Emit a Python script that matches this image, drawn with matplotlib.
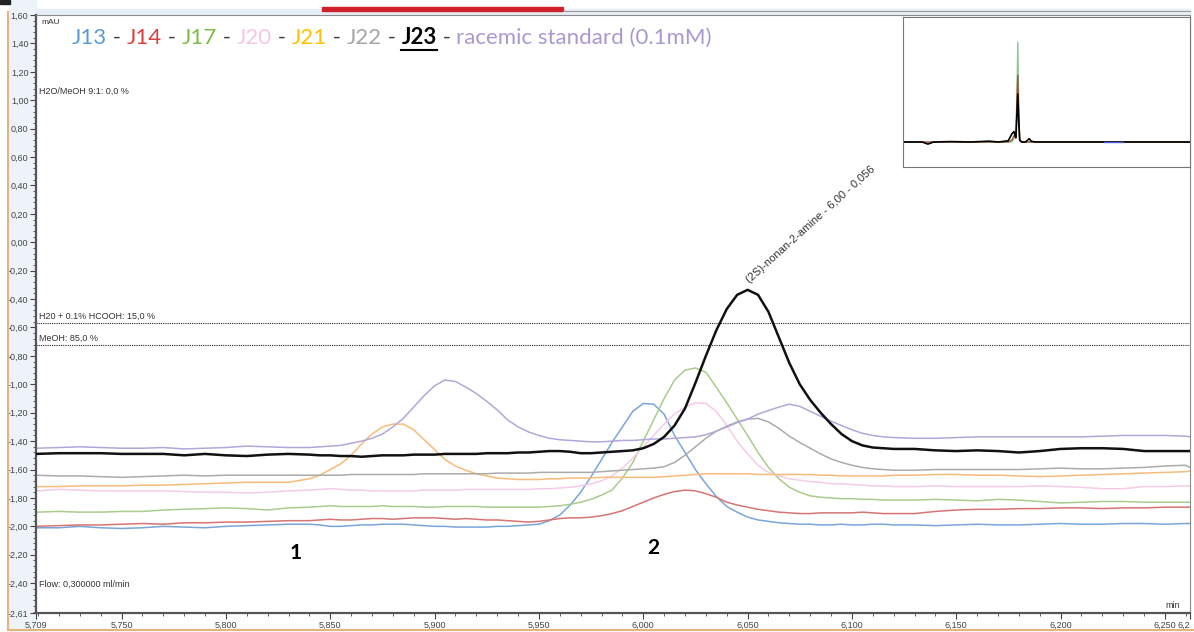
import matplotlib
matplotlib.use('Agg')
import matplotlib.pyplot as plt
from matplotlib.patches import Rectangle
from matplotlib.lines import Line2D
import numpy as np

# retention time (min), shared by all traces
rt = [5.709, 5.72, 5.73, 5.74, 5.75, 5.76, 5.77, 5.78, 5.79, 5.80, 5.81, 5.82, 5.83,
      5.840, 5.845, 5.850, 5.855, 5.860, 5.865, 5.870, 5.875, 5.880, 5.885, 5.890, 5.895,
      5.900, 5.905, 5.910, 5.915, 5.920, 5.925, 5.930, 5.935, 5.940, 5.945, 5.950, 5.955,
      5.960, 5.965, 5.970, 5.975, 5.980, 5.985, 5.990, 5.995, 6.000, 6.005, 6.010, 6.015,
      6.020, 6.025, 6.030, 6.035, 6.040, 6.045, 6.050, 6.055, 6.060, 6.065, 6.070, 6.075,
      6.080, 6.085, 6.090, 6.095, 6.100, 6.105, 6.110, 6.115, 6.120,
      6.13, 6.14, 6.15, 6.16, 6.17, 6.18, 6.19, 6.20, 6.21, 6.22, 6.23, 6.24, 6.25, 6.26, 6.262]

j13 = [-2.01, -2.01, -2.00, -2.01, -2.015, -2.01, -2.00, -2.005, -2.01, -2.00, -1.995, -1.99, -1.985,
       -1.985, -1.99, -2.00, -2.00, -1.995, -1.99, -1.99, -1.985, -1.985, -1.985, -1.99, -1.995,
       -2.00, -2.00, -2.005, -2.005, -2.005, -2.005, -2.00, -2.00, -1.995, -1.99, -1.985, -1.96,
       -1.92, -1.85, -1.76, -1.65, -1.53, -1.41, -1.30, -1.19, -1.135, -1.14, -1.21, -1.36,
       -1.48, -1.60, -1.70, -1.79, -1.86, -1.90, -1.935, -1.955, -1.965, -1.975, -1.98, -1.985,
       -1.985, -1.99, -1.99, -1.985, -1.99, -1.99, -1.985, -1.985, -1.99,
       -1.99, -1.995, -1.99, -1.985, -1.99, -1.99, -1.985, -1.98, -1.985, -1.985, -1.98, -1.98, -1.985, -1.98, -1.98]

j14 = [-2.00, -1.995, -1.99, -1.99, -1.985, -1.98, -1.985, -1.975, -1.975, -1.97, -1.97, -1.965, -1.96,
       -1.96, -1.955, -1.95, -1.955, -1.955, -1.95, -1.945, -1.945, -1.95, -1.945, -1.94, -1.94,
       -1.94, -1.945, -1.95, -1.945, -1.95, -1.955, -1.955, -1.96, -1.965, -1.97, -1.965, -1.955,
       -1.945, -1.94, -1.94, -1.935, -1.925, -1.91, -1.89, -1.86, -1.83, -1.80, -1.775, -1.755,
       -1.745, -1.75, -1.77, -1.795, -1.83, -1.85, -1.865, -1.88, -1.89, -1.90, -1.905, -1.91,
       -1.91, -1.905, -1.905, -1.905, -1.905, -1.90, -1.905, -1.91, -1.91,
       -1.91, -1.895, -1.885, -1.88, -1.88, -1.875, -1.875, -1.87, -1.87, -1.875, -1.87, -1.87, -1.865, -1.865, -1.865]

j17 = [-1.90, -1.895, -1.90, -1.90, -1.895, -1.895, -1.885, -1.88, -1.875, -1.87, -1.875, -1.885, -1.87,
       -1.865, -1.86, -1.855, -1.86, -1.86, -1.86, -1.86, -1.855, -1.86, -1.86, -1.86, -1.865,
       -1.865, -1.86, -1.86, -1.86, -1.86, -1.865, -1.865, -1.865, -1.865, -1.865, -1.865, -1.86,
       -1.855, -1.845, -1.83, -1.81, -1.78, -1.745, -1.66, -1.55, -1.40, -1.25, -1.10, -0.97,
       -0.90, -0.885, -0.915, -1.02, -1.13, -1.245, -1.36, -1.48, -1.585, -1.665, -1.725, -1.76,
       -1.785, -1.795, -1.80, -1.805, -1.805, -1.81, -1.81, -1.815, -1.815,
       -1.815, -1.81, -1.815, -1.82, -1.81, -1.815, -1.825, -1.835, -1.83, -1.825, -1.825, -1.83, -1.83, -1.83, -1.83]

j20 = [-1.75, -1.74, -1.745, -1.75, -1.75, -1.75, -1.75, -1.755, -1.76, -1.76, -1.765, -1.76, -1.75,
       -1.745, -1.74, -1.735, -1.74, -1.745, -1.745, -1.75, -1.75, -1.75, -1.75, -1.75, -1.745,
       -1.745, -1.745, -1.745, -1.74, -1.74, -1.74, -1.74, -1.74, -1.74, -1.74, -1.735, -1.735,
       -1.73, -1.725, -1.715, -1.70, -1.68, -1.645, -1.59, -1.52, -1.44, -1.36, -1.28, -1.21,
       -1.16, -1.13, -1.135, -1.19, -1.29, -1.40, -1.49, -1.57, -1.62, -1.645, -1.665, -1.675,
       -1.685, -1.69, -1.70, -1.70, -1.705, -1.71, -1.715, -1.715, -1.72,
       -1.72, -1.715, -1.72, -1.72, -1.72, -1.72, -1.715, -1.72, -1.725, -1.735, -1.735, -1.72, -1.72, -1.715, -1.715]

j21 = [-1.72, -1.72, -1.715, -1.715, -1.715, -1.71, -1.71, -1.705, -1.70, -1.695, -1.69, -1.69, -1.69,
       -1.665, -1.64, -1.60, -1.56, -1.50, -1.42, -1.35, -1.30, -1.28, -1.28, -1.32, -1.39,
       -1.46, -1.53, -1.575, -1.605, -1.63, -1.645, -1.66, -1.665, -1.67, -1.67, -1.67, -1.665,
       -1.665, -1.66, -1.66, -1.66, -1.655, -1.655, -1.655, -1.655, -1.655, -1.655, -1.65, -1.645,
       -1.64, -1.635, -1.63, -1.63, -1.63, -1.63, -1.63, -1.635, -1.635, -1.635, -1.635, -1.635,
       -1.635, -1.64, -1.64, -1.645, -1.645, -1.645, -1.645, -1.645, -1.64,
       -1.64, -1.635, -1.635, -1.64, -1.64, -1.645, -1.65, -1.645, -1.64, -1.635, -1.63, -1.625, -1.62, -1.615, -1.61]

j22 = [-1.64, -1.645, -1.645, -1.65, -1.655, -1.65, -1.645, -1.64, -1.645, -1.64, -1.64, -1.64, -1.64,
       -1.64, -1.64, -1.64, -1.64, -1.635, -1.635, -1.635, -1.635, -1.635, -1.635, -1.635, -1.63,
       -1.63, -1.63, -1.63, -1.63, -1.63, -1.63, -1.625, -1.625, -1.625, -1.625, -1.62, -1.62,
       -1.62, -1.62, -1.62, -1.62, -1.615, -1.61, -1.605, -1.60, -1.595, -1.59, -1.58, -1.55,
       -1.50, -1.44, -1.38, -1.33, -1.295, -1.265, -1.245, -1.24, -1.265, -1.31, -1.365, -1.41,
       -1.45, -1.49, -1.525, -1.55, -1.57, -1.585, -1.595, -1.60, -1.605,
       -1.605, -1.60, -1.60, -1.60, -1.60, -1.60, -1.595, -1.59, -1.595, -1.595, -1.59, -1.585, -1.575, -1.57, -1.585]

j23 = [-1.49, -1.485, -1.485, -1.485, -1.49, -1.49, -1.49, -1.50, -1.49, -1.50, -1.505, -1.495, -1.49,
       -1.495, -1.50, -1.50, -1.505, -1.505, -1.51, -1.505, -1.50, -1.50, -1.50, -1.495, -1.495,
       -1.495, -1.49, -1.49, -1.49, -1.49, -1.485, -1.485, -1.485, -1.48, -1.48, -1.475, -1.47,
       -1.47, -1.475, -1.485, -1.485, -1.48, -1.475, -1.47, -1.465, -1.45, -1.42, -1.37, -1.29,
       -1.17, -0.99, -0.80, -0.62, -0.47, -0.37, -0.335, -0.37, -0.49, -0.67, -0.85, -1.00,
       -1.11, -1.20, -1.28, -1.35, -1.40, -1.43, -1.445, -1.45, -1.455,
       -1.455, -1.465, -1.47, -1.465, -1.47, -1.48, -1.47, -1.455, -1.45, -1.45, -1.455, -1.47, -1.47, -1.47, -1.47]

racemic = [-1.45, -1.445, -1.44, -1.445, -1.45, -1.45, -1.445, -1.455, -1.45, -1.445, -1.435, -1.44, -1.445,
           -1.445, -1.44, -1.435, -1.43, -1.415, -1.40, -1.38, -1.35, -1.30, -1.24, -1.16, -1.08,
           -1.01, -0.97, -0.98, -1.02, -1.065, -1.12, -1.18, -1.25, -1.30, -1.335, -1.36, -1.38,
           -1.39, -1.395, -1.40, -1.405, -1.405, -1.40, -1.395, -1.395, -1.39, -1.385, -1.385, -1.38,
           -1.375, -1.37, -1.355, -1.33, -1.30, -1.27, -1.245, -1.21, -1.185, -1.16, -1.14, -1.155,
           -1.19, -1.225, -1.26, -1.29, -1.32, -1.345, -1.36, -1.37, -1.375,
           -1.38, -1.38, -1.375, -1.37, -1.37, -1.37, -1.37, -1.37, -1.37, -1.365, -1.36, -1.36, -1.36, -1.365, -1.37]

names = ['J13', 'J14', 'J17', 'J20', 'J21', 'J22', 'J23', 'racemic standard (0.1mM)']
line_colors = ['#78a6da', '#d77474', '#a9cc8a', '#f6cbe6', '#f7bb7a', '#ababab', '#111111', '#b2a7d8']
text_colors = ['#5b9bd5', '#d9413f', '#7cbd4a', '#f7c6e6', '#ffc000', '#a5a5a5', '#000000', '#a999d0']

# gradient / method labels
solvent_a = -0.569
solvent_b = -0.724

# overview chromatogram in the inset (whole run)
ov_time = [0.0, 0.6, 1.0, 1.3, 1.6, 2.5, 3.5, 4.5, 5.0, 5.5, 5.7, 5.8, 5.9, 5.95, 6.0, 6.05,
           6.1, 6.2, 6.4, 6.6, 6.7, 6.9, 8.0, 10.0, 12.0, 15.0]
ov_black = [0.0, 0.0, 0.0, -0.05, 0.0, 0.01, 0.0, 0.02, 0.0, 0.03, 0.2, 0.25, 0.1, 0.6, 1.15, 0.5,
            0.05, 0.0, 0.0, 0.08, 0.02, 0.0, 0.0, 0.0, 0.0, 0.0]
ov_green = [0.0, 0.0, 0.0, -0.04, 0.0, 0.0, 0.0, 0.0, 0.0, 0.0, 0.0, 0.1, 0.2, 1.0, 2.4, 0.8,
            0.05, 0.0, 0.0, 0.0, 0.0, 0.0, 0.0, 0.0, 0.0, 0.0]
ov_brown = [0.0, 0.0, 0.0, 0.0, 0.0, 0.0, 0.0, 0.0, 0.0, 0.0, 0.05, 0.15, 0.1, 0.9, 1.6, 0.6,
            0.03, 0.0, 0.0, 0.0, 0.0, 0.0, 0.0, 0.0, 0.0, 0.0]
ov_blue_t = [10.5, 11.5]
ov_blue = [0.0, 0.0]

W, H = 1194, 632
def fx(px):
    return px / W
def fy(py):
    return 1 - py / H

plt.rcParams['font.family'] = ['Liberation Sans', 'DejaVu Sans']
fig = plt.figure(figsize=(W / 100, H / 100), dpi=100)

# frame decorations of the software window
fig.add_artist(Rectangle((fx(9), 0), fx(27), 1, transform=fig.transFigure, color='#eef3fa', zorder=0))
fig.add_artist(Line2D([fx(8), fx(8)], [fy(630), fy(12)], transform=fig.transFigure, color='#e2b57a', lw=1.5))
fig.add_artist(Line2D([fx(8), fx(1194)], [fy(630), fy(630)], transform=fig.transFigure, color='#e2b57a', lw=1.5))
fig.add_artist(Rectangle((fx(36), fy(14)), fx(1154), fy(9) - fy(14), transform=fig.transFigure, color='#e8eef6', zorder=0))
fig.add_artist(Rectangle((fx(322), fy(11)), fx(241), fy(7) - fy(11), transform=fig.transFigure, color='#d0202a'))
fig.add_artist(Line2D([fx(563), fx(1190)], [fy(11), fy(11)], transform=fig.transFigure, color='#999999', lw=0.8))
fig.add_artist(Rectangle((fx(0), fy(4)), fx(10), fy(0) - fy(4), transform=fig.transFigure, color='#222222'))

ax = fig.add_axes([fx(36), fy(613), fx(1190) - fx(36), fy(15) - fy(613)])
for name, y, c in zip(names, [j13, j14, j17, j20, j21, j22, j23, racemic], line_colors):
    ax.plot(rt, y, color=c, lw=1.8 if name == 'J23' else 1.1, zorder=3 if name == 'J23' else 2,
            solid_joinstyle='round')

ax.set_xlim(5.709, 6.262)
ax.set_ylim(-2.61, 1.60)

yt = [1.6 - 0.2 * i for i in range(21)] + [-2.61]
ax.set_yticks(yt)
ax.set_yticklabels([('%.2f' % v).replace('.', ',') for v in yt])
ax.set_yticks(np.arange(-2.60, 1.61, 0.04), minor=True)
xt = [5.709, 5.75, 5.80, 5.85, 5.90, 5.95, 6.00, 6.05, 6.10, 6.15, 6.20, 6.25, 6.262]
ax.set_xticks(xt)
xlabels = [('%.3f' % v).replace('.', ',') for v in xt]
xlabels[-1] = '6,2'   # truncated by the window edge in the original
ax.set_xticklabels(xlabels)
ax.set_xticks(np.arange(5.71, 6.262, 0.01), minor=True)
ax.tick_params(labelsize=6.5, colors='#444444', length=4, width=0.8, pad=1.5)
ax.tick_params(which='minor', length=2, width=0.6, colors='#444444')
ax.get_xticklabels()[-1].set_horizontalalignment('right')
for s in ['left', 'bottom']:
    ax.spines[s].set_color('#555555')
    ax.spines[s].set_linewidth(1.6)
for s in ['top', 'right']:
    ax.spines[s].set_color('#8a8a8a')
    ax.spines[s].set_linewidth(0.8)

ax.axhline(solvent_a, color='#222222', ls=(0, (1, 1)), lw=0.8)
ax.axhline(solvent_b, color='#222222', ls=(0, (1, 1)), lw=0.8)
tk = dict(fontsize=6.5, color='#333333', ha='left')
ax.text(5.7105, solvent_a + 0.015, 'H20 + 0.1% HCOOH: 15,0 %', va='bottom', **tk)
ax.text(5.7105, solvent_b + 0.015, 'MeOH: 85,0 %', va='bottom', **tk)
ax.text(5.7105, 1.06, 'H2O/MeOH 9:1: 0,0 %', va='center', **tk)
ax.text(5.7105, -2.41, 'Flow: 0,300000 ml/min', va='center', **tk)
ax.text(5.7115, 1.55, 'mAU', fontsize=6, color='#333333', ha='left', va='center')
ax.text(6.257, -2.56, 'min', fontsize=6.5, color='#333333', ha='right', va='center')

ax.text(5.8335, -2.19, '1', fontsize=15, fontweight='bold', ha='center', va='center', family='Lato')
ax.text(6.0047, -2.15, '2', fontsize=15, fontweight='bold', ha='center', va='center', family='Lato')

ax.text(6.0515, -0.30, '(2S)-nonan-2-amine - 6,00 - 0,056', rotation=42, rotation_mode='anchor',
        fontsize=8, color='#333333', ha='left', va='bottom')

# coloured sample legend
fig.canvas.draw()
r = fig.canvas.get_renderer()
x0 = fx(72)
yl = fy(38)
pieces = []
for i, (n, c) in enumerate(zip(names, text_colors)):
    pieces.append((n, c, n == 'J23'))
    if i < len(names) - 1:
        pieces.append((' - ', '#404040', False))
for s, c, bold in pieces:
    t = fig.text(x0, yl, s, color=c, fontsize=16, family='Lato', ha='left', va='center',
                 fontweight='bold' if bold else 'normal')
    bb = t.get_window_extent(renderer=r)
    if bold:
        fig.add_artist(Line2D([bb.x0 / W, bb.x1 / W], [bb.y0 / H - 0.002, bb.y0 / H - 0.002],
                              transform=fig.transFigure, color='black', lw=1.5))
    x0 = bb.x1 / W

# overview inset
ins = fig.add_axes([fx(903), fy(167), fx(1190) - fx(903), fy(17) - fy(167)])
ins.plot(ov_time, ov_green, color='#8fc79a', lw=1.0)
ins.plot(ov_time, ov_brown, color='#a0522d', lw=1.0)
ins.plot(ov_time, ov_black, color='black', lw=1.2)
ins.plot(ov_blue_t, ov_blue, color='#4a5de0', lw=1.0)
ins.set_xlim(0, 15)
ins.set_ylim(-0.6, 3.0)
ins.set_xticks([])
ins.set_yticks([])
for s in ins.spines.values():
    s.set_color('#777777')
    s.set_linewidth(0.8)

fig.savefig('out.png', dpi=100)
